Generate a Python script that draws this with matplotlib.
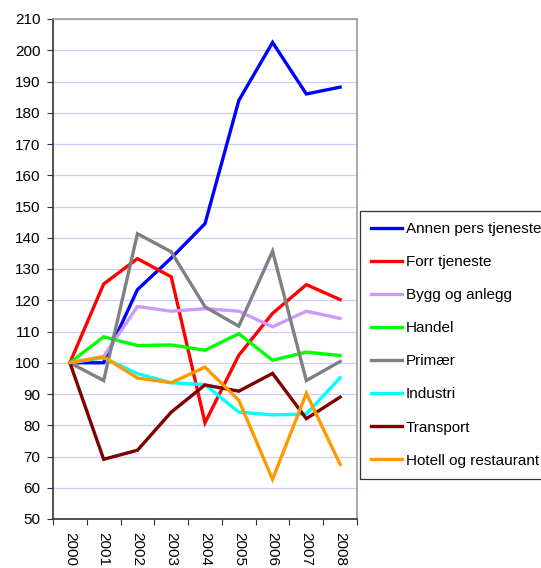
import matplotlib.pyplot as plt
import numpy as np

plt.rcParams.update({
    'font.family': ['Liberation Sans', 'DejaVu Sans'],
    'font.size': 11,
})

years = ['2000', '2001', '2002', '2003', '2004', '2005', '2006', '2007', '2008']

annen_pers = [100, 100, 123.4, 133.5, 144.5, 183.9, 202.5, 186, 188.2]
forr_tjeneste = [100, 125.2, 133.3, 127.5, 80.8, 102.4, 115.8, 125, 120.2]
bygg_anlegg = [100, 102, 118, 116.5, 117.3, 116.5, 111.5, 116.5, 114.2]
handel = [100, 108.3, 105.5, 105.7, 104, 109.3, 100.8, 103.4, 102.3]
primaer = [100, 94.3, 141.3, 135.5, 117.9, 111.7, 135.7, 94.3, 100.4]
industri = [100, 101.6, 96.5, 93.6, 93, 84.2, 83.3, 83.6, 95.2]
transport = [100, 69.1, 72, 84.2, 92.9, 90.9, 96.6, 82.1, 89]
hotell = [100, 101.9, 95.1, 93.6, 98.6, 88, 62.7, 90.2, 67.5]

series_names = ['Annen pers tjeneste', 'Forr tjeneste', 'Bygg og anlegg', 'Handel',
                'Primær', 'Industri', 'Transport', 'Hotell og restaurant']
series_values = [annen_pers, forr_tjeneste, bygg_anlegg, handel,
                 primaer, industri, transport, hotell]
colors = ['#0000FF', '#FF0000', '#CC99FF', '#00FF00',
          '#808080', '#00FFFF', '#800000', '#FF9900']

fig = plt.figure(figsize=(5.41, 5.68), dpi=100)
ax = fig.add_axes([53 / 541, 1 - 519 / 568, 304 / 541, 500 / 568])

x = np.arange(len(years))
for name, vals, c in zip(series_names, series_values, colors):
    ax.plot(x, vals, color=c, lw=2.4, label=name, solid_joinstyle='miter')

ax.set_xlim(-0.5, len(years) - 0.5)
ax.set_ylim(50, 210)
ax.set_yticks(np.arange(50, 211, 10))
ax.yaxis.grid(True, color='#CCCCFF', lw=0.9)
ax.set_axisbelow(True)

# category ticks between labels, labels centred and rotated
ax.set_xticks(np.arange(-0.5, len(years), 1.0))
ax.set_xticklabels([])
ax.set_xticks(x, minor=True)
ax.set_xticklabels(years, minor=True, rotation=-90, va='top', ha='center')
ax.tick_params(axis='x', which='minor', length=0, pad=9)
ax.tick_params(axis='x', which='major', length=4, direction='out', color='#333333')
ax.tick_params(axis='y', length=4, direction='out', color='#333333', pad=5)

for s in ['top', 'right']:
    ax.spines[s].set_color('#999999')
    ax.spines[s].set_linewidth(1.2)
for s in ['left', 'bottom']:
    ax.spines[s].set_color('#333333')
    ax.spines[s].set_linewidth(1.2)

leg = fig.legend(loc='upper left', bbox_to_anchor=(360 / 541, 1 - 211 / 568),
                 frameon=True, fancybox=False, edgecolor='black', fontsize=11,
                 handlelength=2.0, handletextpad=0.26, labelspacing=1.25,
                 borderpad=0.72, borderaxespad=0)
leg.get_frame().set_linewidth(0.9)

fig.savefig('out.png', dpi=100)
